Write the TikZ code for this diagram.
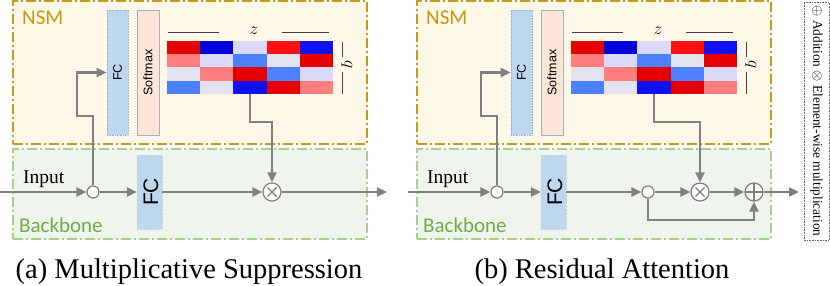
\documentclass[tikz,border=0pt]{standalone}
\usepackage{fontspec}
\setmainfont{Liberation Serif}
\newfontfamily\carlito{Carlito}
\newfontfamily\arialf{Liberation Sans}
\usetikzlibrary{arrows.meta,calc}
\definecolor{nsmfill}{HTML}{FFF8E9}
\definecolor{nsmline}{HTML}{C99A1A}
\definecolor{nsmtext}{HTML}{C9960C}
\definecolor{bbfill}{HTML}{EFF4EC}
\definecolor{bbline}{HTML}{A8D08D}
\definecolor{bbtext}{HTML}{70AD47}
\definecolor{fcfill}{HTML}{BDD7EE}
\definecolor{fcline}{HTML}{9DB3CC}
\definecolor{smfill}{HTML}{FBE5D6}
\definecolor{smline}{HTML}{A8AEBB}
\definecolor{flow}{HTML}{808080}
\definecolor{hr}{HTML}{E60000}
\definecolor{hb}{HTML}{0000DD}
\definecolor{hl}{HTML}{DADAF8}
\definecolor{hR}{HTML}{FF1010}
\definecolor{hB}{HTML}{1010F0}
\definecolor{lr}{HTML}{FF7F7F}
\definecolor{mb}{HTML}{4C80FF}
\definecolor{lg}{HTML}{E4E4F0}
\tikzset{
  dashdot/.style={dash pattern=on 10pt off 3pt on 2pt off 3pt},
  nsmbox/.style={rectangle, draw=nsmline, fill=nsmfill, line width=1.5pt, dashdot, inner sep=0pt, minimum width=354pt, minimum height=143pt},
  bbbox/.style={rectangle, draw=bbline, fill=bbfill, line width=1.2pt, dashdot, inner sep=0pt, minimum width=354pt, minimum height=90pt},
  fcsmall/.style={rectangle, draw=fcline, fill=fcfill, densely dotted, line width=0.6pt, inner sep=0pt, minimum width=21pt, minimum height=125pt},
  smbox/.style={rectangle, draw=smline, fill=smfill, line width=0.8pt, inner sep=0pt, minimum width=22pt, minimum height=125pt},
  fcbig/.style={rectangle, draw=fcline!60, fill=fcfill, densely dotted, line width=0.4pt, inner sep=0pt, minimum width=25pt, minimum height=74pt},
  dotc/.style={circle, draw=flow, fill=white, line width=1.2pt, minimum size=12pt, inner sep=0pt},
  opc/.style={circle, draw=flow, fill=white, line width=1.2pt, minimum size=18pt, inner sep=0pt},
  arr/.style={draw=flow, line width=2.3pt, -{Triangle[length=10pt,width=9pt]}},
  thinl/.style={draw=black!75, line width=0.6pt},
  lbl/.style={inner sep=0pt},
}
% one heat-map cell row
\newcommand\hmrow[2]{% #1 row index, #2 colour list
  \foreach \cc [count=\ci from 0] in {#2} {
    \fill[\cc] (167+\ci*33.2, 41+#1*13.25) rectangle ++(33.2,13.25);
  }}
\newcommand\mypanel[2]{% #1 prefix, #2 x of input start (local)
  \node[nsmbox] (#1nsm) at (190,72.5) {};
  \node[bbbox] (#1bb) at (190,194) {};
  \node[lbl, anchor=base west, text=nsmtext, font=\carlito\fontsize{21}{21}\selectfont] (#1nsml) at (22,25) {NSM};
  \node[lbl, anchor=base west, text=bbtext, font=\carlito\fontsize{21}{21}\selectfont] (#1bbl) at (19,232) {Backbone};
  \node[fcsmall] (#1fcs) at (117.5,72.5) {};
  \node[lbl, rotate=90, font=\arialf\fontsize{12.5}{12.5}\selectfont] (#1fcst) at (117.5,72.5) {FC};
  \node[smbox] (#1sm) at (148,72.5) {};
  \node[lbl, rotate=90, font=\arialf\fontsize{12.5}{12.5}\selectfont] (#1smt) at (148,72.5) {Softmax};
  \hmrow{0}{hr,hb,hl,hR,hB}
  \hmrow{1}{lr,hl,mb,lg,hr}
  \hmrow{2}{lg,lr,hr,mb,hl}
  \hmrow{3}{mb,lg,hB,hr,lr}
  \node[inner sep=0pt, minimum width=166pt, minimum height=53pt] (#1hm) at (250,67.5) {};
  \node[lbl, font=\fontsize{18}{18}\selectfont] (#1z) at (254,31) {$z$};
  \draw[thinl] (168,32) -- (219,32);
  \draw[thinl] (282,32) -- (329,32);
  \node[lbl, rotate=-90, font=\fontsize{18}{18}\selectfont] (#1q) at (347,64.5) {$q$};
  \draw[thinl] (342,42) -- (342,57);
  \draw[thinl] (342,72) -- (342,94);
  \coordinate (#1in) at (#2,192);
  \node[dotc] (#1c) at (93,192) {};
  \node[fcbig] (#1fcb) at (149.5,192) {};
  \node[lbl, rotate=90, font=\arialf\fontsize{21}{21}\selectfont] (#1fcbt) at (151,192) {FC};
  \node[lbl, anchor=base west, font=\fontsize{19.5}{19.5}\selectfont] (#1inl) at (23,183) {Input};
  \draw[arr] (#1in) -- (#1c);
  \draw[arr] (#1c) -- (#1fcb);
  \draw[arr] (#1c) |- (77,116) |- (#1fcs.west);
}
\begin{document}
\begin{tikzpicture}[x=1pt,y=-1pt]
\useasboundingbox (0,0) rectangle (830,286);
% panel (a)
\begin{scope}
  \mypanel{a}{0}
  \node[opc] (aot) at (272,192) {};
  \draw[flow, line width=1.2pt] ($(aot)+(-4.5,-4.5)$) -- ($(aot)+(4.5,4.5)$) ($(aot)+(-4.5,4.5)$) -- ($(aot)+(4.5,-4.5)$);
  \coordinate (aout) at (387,192);
  \draw[arr] (afcb) -- (aot);
  \draw[arr] (aot) -- (aout);
  \draw[arr] (ahm.south) -- ++(0,28) -| (aot);
\end{scope}
% panel (b)
\begin{scope}[xshift=404pt]
  \mypanel{b}{4}
  \node[dotc] (bc2) at (244,192) {};
  \node[opc] (bot) at (296,192) {};
  \draw[flow, line width=1.2pt] ($(bot)+(-4.5,-4.5)$) -- ($(bot)+(4.5,4.5)$) ($(bot)+(-4.5,4.5)$) -- ($(bot)+(4.5,-4.5)$);
  \node[opc] (bop) at (350,192) {};
  \draw[flow, line width=1.2pt] ($(bop)+(-9,0)$) -- ($(bop)+(9,0)$) ($(bop)+(0,-9)$) -- ($(bop)+(0,9)$);
  \coordinate (bout) at (395,192);
  \draw[arr] (bfcb) -- (bc2);
  \draw[arr] (bc2) -- (bot);
  \draw[arr] (bot) -- (bop);
  \draw[arr] (bop) -- (bout);
  \draw[arr] (bhm.south) -- ++(0,28) -| (bot);
  \draw[arr] (bc2) |- (350,220) -- (bop);
\end{scope}
% legend
\node[draw=black!60, densely dotted, line width=0.6pt, rotate=-90, minimum width=238pt, minimum height=25pt, inner sep=0pt, font=\fontsize{13.3}{13.3}\selectfont] (legend) at (816.5,121) {$\oplus$ Addition $\otimes$ Element-wise multiplication};
% captions
\node[lbl, anchor=base, font=\fontsize{28.5}{28.5}\selectfont] (capa) at (189,278) {(a) Multiplicative Suppression};
\node[lbl, anchor=base, font=\fontsize{28.5}{28.5}\selectfont] (capb) at (602,278) {(b) Residual Attention};
\end{tikzpicture}
\end{document}
